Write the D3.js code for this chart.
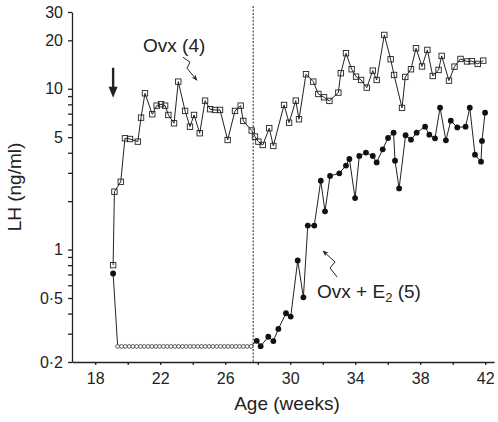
<!DOCTYPE html>
<html>
<head>
<meta charset="utf-8">
<script src="https://cdnjs.cloudflare.com/ajax/libs/d3/7.8.5/d3.min.js"></script>
<style>
  body { margin: 0; background: #fff; }
  svg text { font-family: "Liberation Sans", Arial, sans-serif; fill: #222; }
</style>
</head>
<body>
<div id="chart"></div>
<script>
// LH in ovariectomised animals, with and without E2 implant (log scale)

// Ovx (4) - open squares
var ovxWeeks = [19.10, 19.18, 19.57, 19.83, 20.14, 20.62, 20.82, 21.06, 21.51, 21.78,
  22.05, 22.30, 22.50, 22.85, 23.11, 23.53, 23.83, 24.08, 24.43, 24.76,
  25.07, 25.37, 25.68, 26.15, 26.60, 26.95, 27.11, 27.63, 27.83, 28.04,
  28.31, 28.71, 28.96, 29.62, 29.93, 30.34, 30.54, 30.97, 31.42, 31.73,
  32.08, 32.41, 32.96, 33.11, 33.43, 33.78, 34.05, 34.36, 34.71, 35.08,
  35.32, 35.79, 36.18, 36.39, 36.88, 37.08, 37.43, 37.74, 38.11, 38.44,
  38.77, 39.13, 39.32, 39.77, 40.11, 40.48, 40.88, 41.17, 41.54, 41.88];
var ovxLH = [0.80, 2.29, 2.64, 4.92, 4.87, 4.69, 6.61, 9.37, 6.94, 7.85,
  8.01, 7.85, 6.87, 6.10, 11.07, 7.28, 5.81, 6.87, 5.29, 8.43,
  7.46, 7.38, 7.38, 4.80, 7.28, 7.85, 6.31, 5.50, 5.04, 4.69,
  4.47, 5.68, 4.41, 7.93, 6.15, 8.43, 6.46, 12.31, 11.07, 9.28,
  8.85, 8.40, 9.46, 12.49, 16.63, 13.22, 11.89, 11.34, 10.16, 12.96,
  11.34, 21.6, 15.25, 12.18, 7.60, 11.84, 13.22, 17.86, 13.76, 17.43,
  12.0, 13.09, 16.0, 11.23, 13.72, 15.32, 14.78, 14.85, 14.27, 14.95];

// Ovx + E2 (5) - filled circles (detectable values)
var e2Weeks = [19.10, 27.94, 28.18, 28.65, 28.96, 29.27, 29.74, 30.03, 30.46, 30.81,
  31.08, 31.48, 31.88, 32.14, 32.45, 33.02, 33.43, 33.64, 33.99, 34.25,
  34.66, 35.08, 35.32, 35.69, 36.02, 36.36, 36.45, 36.70, 37.10, 37.43,
  37.78, 38.30, 38.56, 38.91, 39.22, 39.58, 39.88, 40.28, 40.79, 41.05,
  41.37, 41.74, 41.80, 41.99];
var e2LH = [0.71, 0.271, 0.251, 0.287, 0.270, 0.321, 0.402, 0.383, 0.855, 0.505,
  1.41, 1.41, 2.68, 1.73, 2.87, 2.98, 3.33, 3.66, 2.09, 3.82,
  4.01, 3.82, 3.48, 4.20, 4.94, 5.33, 3.57, 2.40, 5.14, 4.82,
  5.33, 5.81, 5.18, 4.92, 7.62, 4.78, 6.33, 5.75, 5.81, 7.62,
  3.89, 3.52, 4.74, 7.10];

// Ovx + E2 while undetectable - open circles
var undetWeeks = [19.38, 19.62, 19.85, 20.09, 20.32, 20.55, 20.79, 21.02, 21.26, 21.49,
  21.73, 21.96, 22.20, 22.43, 22.66, 22.90, 23.13, 23.37, 23.60, 23.84,
  24.07, 24.31, 24.54, 24.77, 25.01, 25.24, 25.48, 25.71, 25.95, 26.18,
  26.42, 26.65, 26.88, 27.12, 27.35, 27.59];
var undetLH = [0.25, 0.25, 0.25, 0.25, 0.25, 0.25, 0.25, 0.25, 0.25, 0.25,
  0.25, 0.25, 0.25, 0.25, 0.25, 0.25, 0.25, 0.25, 0.25, 0.25,
  0.25, 0.25, 0.25, 0.25, 0.25, 0.25, 0.25, 0.25, 0.25, 0.25,
  0.25, 0.25, 0.25, 0.25, 0.25, 0.25];

// axis ticks
var xTicks = [18, 20, 22, 24, 26, 28, 30, 32, 34, 36, 38, 40, 42];
var xLabels = [18, 22, 26, 30, 34, 38, 42];
var yTicks = [0.2, 0.3, 0.4, 0.5, 0.6, 0.7, 0.8, 0.9, 1, 2, 3, 4, 5, 6, 7, 8, 9, 10, 20, 30];
var yLabels = [0.2, 0.5, 1, 5, 10, 20, 30];

var ovxWeek = 19.1;      // down arrow
var dividerWeek = 27.72; // dashed line

var margin = { top: 12, right: 4, bottom: 60, left: 72 },
    width = 498 - margin.left - margin.right,
    height = 422 - margin.top - margin.bottom;

var svg = d3.select("#chart").append("svg")
    .attr("width", 498)
    .attr("height", 422)
  .append("g")
    .attr("transform", "translate(" + margin.left + "," + margin.top + ")");

var x = d3.scaleLinear().domain([16.57, 42.54]).range([0, width]);
var y = d3.scaleLog().domain([0.2, 30]).range([height, 0]);

var ink = "#222";

// zip arrays into points
function pts(ws, vs) {
  return ws.map(function(w, i) { return { week: w, lh: vs[i] }; });
}
var ovxData = pts(ovxWeeks, ovxLH);
var e2Data = pts(e2Weeks, e2LH);
var undetData = pts(undetWeeks, undetLH);
var e2Line = e2Data.concat(undetData).sort(function(a, b) { return a.week - b.week; });

// axes
var yAxis = d3.axisLeft(y)
    .tickValues(yTicks)
    .tickSize(4)
    .tickSizeOuter(0)
    .tickPadding(5)
    .tickFormat(function(d) { return yLabels.indexOf(d) >= 0 ? String(d).replace(".", "\u00b7") : ""; });
var xAxis = d3.axisBottom(x)
    .tickValues(xTicks)
    .tickSize(3)
    .tickSizeOuter(0)
    .tickPadding(8)
    .tickFormat(function(d) { return xLabels.indexOf(d) >= 0 ? d : ""; });

var gy = svg.append("g").call(yAxis);
var gx = svg.append("g").attr("transform", "translate(0," + height + ")").call(xAxis);
[gx, gy].forEach(function(g) {
  g.selectAll("path, line").attr("stroke", ink).attr("stroke-width", 1.3);
  g.selectAll("text").style("font-size", "16px").attr("fill", ink);
});

// dashed divider
svg.append("line")
    .attr("x1", x(dividerWeek)).attr("x2", x(dividerWeek))
    .attr("y1", -6).attr("y2", height)
    .attr("stroke", ink)
    .attr("stroke-width", 1)
    .attr("stroke-dasharray", "2,1.5");

// lines
var line = d3.line()
    .x(function(d) { return x(d.week); })
    .y(function(d) { return y(d.lh); });

svg.append("path").datum(ovxData)
    .attr("d", line).attr("fill", "none").attr("stroke", ink).attr("stroke-width", 1);
svg.append("path").datum(e2Line)
    .attr("d", line).attr("fill", "none").attr("stroke", ink).attr("stroke-width", 1);

// markers
svg.selectAll(".undet").data(undetData).enter().append("circle")
    .attr("class", "undet")
    .attr("cx", function(d) { return x(d.week); })
    .attr("cy", function(d) { return y(d.lh); })
    .attr("r", 1.9)
    .attr("fill", "#fff").attr("stroke", "#333").attr("stroke-width", 0.8);

svg.selectAll(".sq").data(ovxData).enter().append("rect")
    .attr("class", "sq")
    .attr("x", function(d) { return x(d.week) - 2.7; })
    .attr("y", function(d) { return y(d.lh) - 2.7; })
    .attr("width", 5.4).attr("height", 5.4)
    .attr("fill", "none").attr("stroke", ink).attr("stroke-width", 0.9);

svg.selectAll(".dot").data(e2Data).enter().append("circle")
    .attr("class", "dot")
    .attr("cx", function(d) { return x(d.week); })
    .attr("cy", function(d) { return y(d.lh); })
    .attr("r", 2.9)
    .attr("fill", "#111");

// arrowhead marker
svg.append("defs").append("marker")
    .attr("id", "head")
    .attr("viewBox", "0 0 10 10")
    .attr("refX", 9).attr("refY", 5)
    .attr("markerWidth", 6).attr("markerHeight", 6)
    .attr("orient", "auto")
  .append("path")
    .attr("d", "M0,1 L10,5 L0,9 L3,5 Z")
    .attr("fill", ink);

// ovariectomy arrow
var ax = x(ovxWeek), aTop = y(13.5), aBot = y(8.8);
svg.append("line")
    .attr("x1", ax).attr("x2", ax).attr("y1", aTop).attr("y2", aBot - 9)
    .attr("stroke", ink).attr("stroke-width", 2.4);
svg.append("path")
    .attr("d", "M" + (ax - 4.5) + "," + (aBot - 11) + " L" + (ax + 4.5) + "," + (aBot - 11) + " L" + ax + "," + aBot + " Z")
    .attr("fill", ink);

// squiggle pointers
function squiggle(w, v, offs) {
  var ex = x(w), ey = y(v);
  var d = "M" + offs.map(function(o) { return (ex + o[0]) + "," + (ey + o[1]); }).join(" L");
  svg.append("path").attr("d", d)
      .attr("fill", "none").attr("stroke", ink).attr("stroke-width", 1)
      .attr("marker-end", "url(#head)");
}
squiggle(24.26, 11.3, [[-14, -23], [-7, -18], [-10, -12], [0, 0]]);
squiggle(32.02, 0.98, [[14, 26], [7, 17], [12, 11], [0, 0]]);

// labels
svg.append("text")
    .attr("x", x(20.94)).attr("y", y(16.9))
    .style("font-size", "19px")
    .text("Ovx (4)");

var e2Label = svg.append("text")
    .attr("x", x(31.65)).attr("y", y(0.5))
    .style("font-size", "19px");
e2Label.append("tspan").text("Ovx + E");
e2Label.append("tspan").attr("dy", 4).style("font-size", "13px").text("2");
e2Label.append("tspan").attr("dy", -4).text(" (5)");

// axis titles
svg.append("text")
    .attr("transform", "translate(-51," + 175 + ") rotate(-90)")
    .attr("text-anchor", "middle")
    .style("font-size", "19px")
    .text("LH (ng/ml)");

svg.append("text")
    .attr("x", 215).attr("y", 398)
    .attr("text-anchor", "middle")
    .style("font-size", "19px")
    .text("Age (weeks)");
</script>
</body>
</html>
